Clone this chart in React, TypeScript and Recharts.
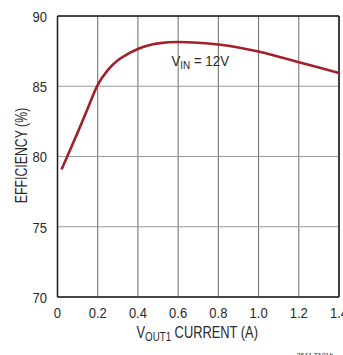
import React from "react";
import {
  LineChart,
  Line,
  XAxis,
  YAxis,
  CartesianGrid,
  ReferenceLine,
  ReferenceDot,
} from "recharts";

const currentA = [0.02, 0.05, 0.1, 0.146, 0.2, 0.25, 0.3, 0.35, 0.4, 0.45, 0.5, 0.6, 0.7, 0.8, 0.9, 1.0, 1.1, 1.2, 1.3, 1.4];
const efficiencyPct = [79.07, 80.05, 81.7, 83.27, 85.1, 86.15, 86.85, 87.3, 87.65, 87.9, 88.05, 88.15, 88.1, 87.97, 87.76, 87.47, 87.1, 86.71, 86.33, 85.95];
const xTicks = [0, 0.2, 0.4, 0.6, 0.8, 1.0, 1.2, 1.4];
const yTicks = [70, 75, 80, 85, 90];
const annotation = { x: 0.71, y: 86.44, main: "V", sub: "IN", rest: " = 12V" };
const footnote = "3641 TA01b";

const data = currentA.map((x, i) => ({ x, eff: efficiencyPct[i] }));

const FONT = "'Liberation Sans', Arial, sans-serif";
const TEXT = "#2a2a2a";
const NARROW = 0.84;

const squeeze = (cx: number, s: number) => `translate(${cx} 0) scale(${s} 1) translate(${-cx} 0)`;

const XTick = (props: any) => {
  const { x, y, payload } = props;
  const v = payload.value as number;
  const label = v === 0 ? "0" : v.toFixed(1);
  return (
    <text
      x={x}
      y={y + 13.3}
      textAnchor="middle"
      fontFamily={FONT}
      fontSize={15.5}
      fill={TEXT}
      transform={squeeze(x, NARROW)}
    >
      {label}
    </text>
  );
};

const YTick = (props: any) => {
  const { x, y, payload } = props;
  const tx = x - 2.5;
  return (
    <text
      x={tx}
      y={y + 6}
      textAnchor="end"
      fontFamily={FONT}
      fontSize={15.5}
      fill={TEXT}
      transform={squeeze(tx, NARROW)}
    >
      {String(payload.value)}
    </text>
  );
};

const XLabel = (props: any) => {
  const vb = props.viewBox || {};
  const cx = vb.x + vb.width / 2 - 1;
  return (
    <text
      x={cx}
      y={338.3}
      textAnchor="middle"
      fontFamily={FONT}
      fontSize={16.5}
      fill={TEXT}
      transform={squeeze(cx, 0.78)}
    >
      V<tspan fontSize={12.5} dy={3}>OUT1</tspan>
      <tspan dy={-3}> CURRENT (A)</tspan>
    </text>
  );
};

const YLabel = (props: any) => {
  const vb = props.viewBox || {};
  const cy = vb.y + vb.height / 2 - 1;
  const bx = 26.7;
  return (
    <g transform={`rotate(-90 ${bx} ${cy})`}>
      <text
        x={bx}
        y={cy}
        textAnchor="middle"
        fontFamily={FONT}
        fontSize={16}
        fill={TEXT}
        transform={squeeze(bx, 0.77)}
      >
        EFFICIENCY (%)
      </text>
    </g>
  );
};

const AnnLabel = (props: any) => {
  const vb = props.viewBox || {};
  const cx = vb.x + (vb.width || 0) / 2;
  const cy = vb.y + (vb.height || 0) / 2;
  return (
    <text
      x={cx}
      y={cy}
      textAnchor="middle"
      fontFamily={FONT}
      fontSize={15.5}
      fill={TEXT}
      transform={squeeze(cx, 0.86)}
    >
      {annotation.main}
      <tspan fontSize={11.5} dy={3}>{annotation.sub}</tspan>
      <tspan dy={-3}>{annotation.rest}</tspan>
    </text>
  );
};

export default function App() {
  return (
    <div style={{ position: "absolute", left: 0, top: 0, width: 343, height: 355, background: "#fff" }}>
      <LineChart
        width={343}
        height={355}
        data={data}
        margin={{ top: 16, right: 4, bottom: 0, left: 0 }}
      >
        <CartesianGrid horizontal={false} stroke="#6a6a6a" strokeWidth={1} />
        <CartesianGrid vertical={false} stroke="#9a9a9a" strokeWidth={1} />
        <XAxis
          dataKey="x"
          type="number"
          domain={[0, 1.4]}
          ticks={xTicks}
          height={58}
          tickLine={false}
          axisLine={{ stroke: "#1a1a1a", strokeWidth: 1.5 }}
          tick={<XTick />}
          interval={0}
          label={<XLabel />}
        />
        <YAxis
          type="number"
          domain={[70, 90]}
          ticks={yTicks}
          width={57.5}
          tickLine={false}
          axisLine={{ stroke: "#1a1a1a", strokeWidth: 1.5 }}
          tick={<YTick />}
          interval={0}
          label={<YLabel />}
        />
        <ReferenceLine y={90} stroke="#1a1a1a" strokeWidth={1.5} />
        <ReferenceLine x={1.4} stroke="#1a1a1a" strokeWidth={1.5} />
        <Line
          type="monotone"
          dataKey="eff"
          stroke="#a3202a"
          strokeWidth={2.6}
          dot={false}
          isAnimationActive={false}
        />
        <ReferenceDot x={annotation.x} y={annotation.y} r={0} fill="none" stroke="none" label={<AnnLabel />} />
        <text
          x={315}
          y={358}
          textAnchor="middle"
          fontFamily={FONT}
          fontSize={8}
          fill={TEXT}
          transform={squeeze(315, 0.85)}
        >
          {footnote}
        </text>
      </LineChart>
    </div>
  );
}
